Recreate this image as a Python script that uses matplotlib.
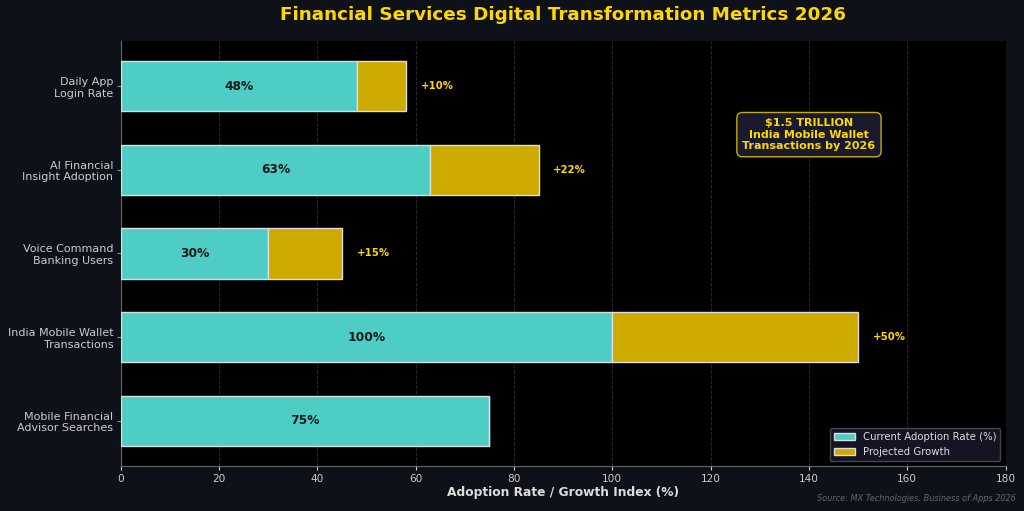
import matplotlib
matplotlib.use("Agg")
import matplotlib.pyplot as plt

categories = ["Mobile Financial\nAdvisor Searches", "India Mobile Wallet\nTransactions",
              "Voice Command\nBanking Users", "AI Financial\nInsight Adoption",
              "Daily App\nLogin Rate"]
current = [75, 100, 30, 63, 48]
growth = [0, 50, 15, 22, 10]

teal = "#4ECDC4"
gold = "#CCAA00"
bg = "#0E1117"

fig, ax = plt.subplots(figsize=(10.24, 5.11), dpi=100)
fig.patch.set_facecolor(bg)
ax.set_facecolor("black")

y = range(len(categories))
ax.barh(y, current, height=0.6, color=teal, edgecolor="#DDDDDD", linewidth=1,
        label="Current Adoption Rate (%)", zorder=3)
ax.barh(y, growth, left=current, height=0.6, color=gold, edgecolor="#DDDDDD",
        linewidth=1, label="Projected Growth", zorder=3)

for i in y:
    ax.text(current[i] / 2, i, f"{current[i]}%", ha="center", va="center",
            color="#1a1a1a", fontsize=8.8, fontweight="bold", zorder=4)
    if growth[i] > 0:
        ax.text(current[i] + growth[i] + 3, i, f"+{growth[i]}%", ha="left",
                va="center", color="#FFD700", fontsize=7.3, fontweight="bold", zorder=4)

ax.set_yticks(list(y))
ax.set_yticklabels(categories, color="#CCCCCC", fontsize=8)
ax.set_xlim(0, 180)
ax.set_ylim(-0.54, 4.54)
ax.tick_params(axis="x", colors="#CCCCCC", labelsize=7.6, length=3, pad=2.5)
ax.tick_params(axis="y", colors="#888888", length=3, pad=2.5)
for lab in ax.get_yticklabels():
    lab.set_color("#CCCCCC")
ax.grid(axis="x", color="#444444", linestyle="--", linewidth=0.7, alpha=0.6, zorder=0)
for s in ["top", "right"]:
    ax.spines[s].set_visible(False)
for s in ["left", "bottom"]:
    ax.spines[s].set_color("#666666")

ax.set_xlabel("Adoption Rate / Growth Index (%)", color="#DDDDDD", fontsize=8.8,
              fontweight="bold", labelpad=2)
ax.set_title("Financial Services Digital Transformation Metrics 2026", color="#FFD700",
             fontsize=13.2, fontweight="bold", pad=15)

ax.text(140, 3.42, "$1.5 TRILLION\nIndia Mobile Wallet\nTransactions by 2026",
        ha="center", va="center", color="#FFD700", fontsize=8, fontweight="bold",
        bbox=dict(boxstyle="round,pad=0.5", facecolor="#1a1a2e", edgecolor="#CCAA00",
                  linewidth=1), zorder=5)

leg = ax.legend(loc="lower right", facecolor="#1a1a2e", edgecolor="#555555",
                fontsize=7.3, labelcolor="#DDDDDD")

fig.text(0.992, 0.015, "Source: MX Technologies, Business of Apps 2026", ha="right",
         va="bottom", color="#666666", fontsize=5.9, style="italic")

plt.subplots_adjust(left=0.118, right=0.982, top=0.92, bottom=0.088)
plt.savefig("out.png", facecolor=bg)
